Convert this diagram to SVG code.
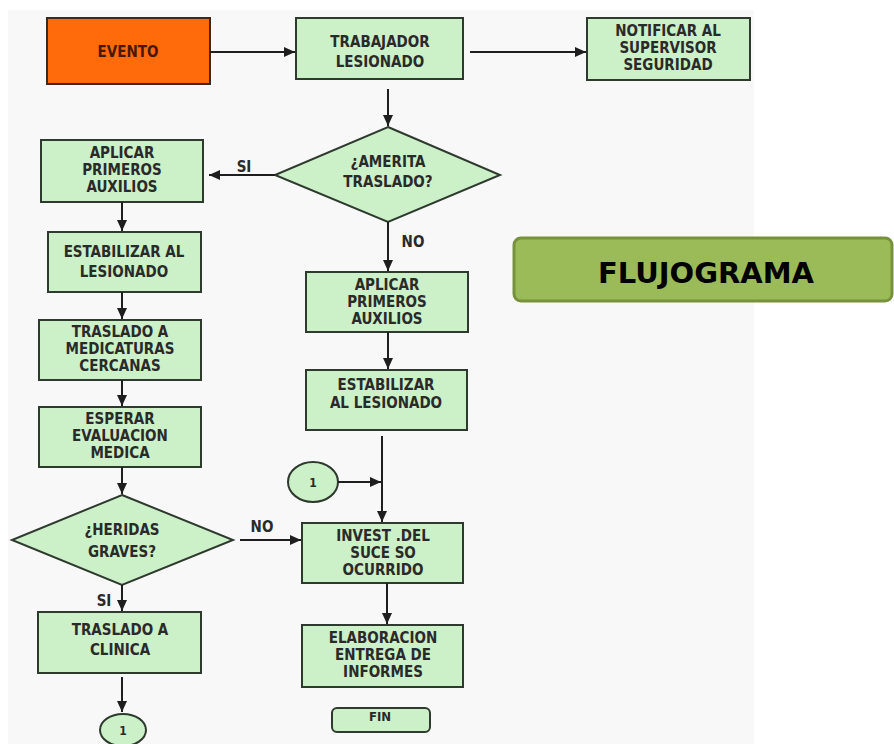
<svg xmlns="http://www.w3.org/2000/svg" width="894" height="744" viewBox="0 0 894 744">
<defs>
<marker id="ah" markerUnits="userSpaceOnUse" markerWidth="11" markerHeight="10" refX="11" refY="5" orient="auto">
<path d="M0,0 L11,5 L0,10 z" fill="#1e1e1e"/>
</marker>
<style>
.box{fill:#ccf0c8;stroke:#2e3a2e;stroke-width:2}
.t{font-family:"DejaVu Sans Condensed","DejaVu Sans",sans-serif;font-stretch:condensed;font-weight:bold;font-size:15px;fill:#2a2a2a;text-anchor:middle}
.lbl{font-family:"DejaVu Sans Condensed","DejaVu Sans",sans-serif;font-stretch:condensed;font-weight:bold;font-size:15px;fill:#2a2a2a;text-anchor:middle}
.c line{stroke:#1e1e1e;stroke-width:2;marker-end:url(#ah)}
</style>
</defs>
<rect x="0" y="0" width="894" height="744" fill="#ffffff"/>
<rect x="8" y="10" width="746" height="734" fill="#f8f8f8"/>

<g id="evento">
<rect x="47" y="18" width="163" height="66" fill="#ff6a0a" stroke="#3a2a20" stroke-width="2"/>
<text class="t" x="128" y="57" style="fill:#4a1808">EVENTO</text>
</g>
<g id="trabajador">
<rect class="box" x="296" y="18" width="167" height="61"/>
<text class="t" x="380" y="47">TRABAJADOR</text>
<text class="t" x="380" y="67">LESIONADO</text>
</g>
<g id="notificar">
<rect class="box" x="587" y="18" width="163" height="62"/>
<text class="t" x="668" y="36">NOTIFICAR AL</text>
<text class="t" x="668" y="53">SUPERVISOR</text>
<text class="t" x="668" y="70">SEGURIDAD</text>
</g>
<g id="amerita">
<polygon class="box" points="388,127 500,175 388,222 275,175"/>
<text class="t" x="388" y="167">¿AMERITA</text>
<text class="t" x="388" y="187">TRASLADO?</text>
</g>
<g id="aplicar1">
<rect class="box" x="41" y="140" width="162" height="62"/>
<text class="t" x="122" y="158">APLICAR</text>
<text class="t" x="122" y="175">PRIMEROS</text>
<text class="t" x="122" y="192">AUXILIOS</text>
</g>
<g id="estabilizar1">
<rect class="box" x="48" y="232" width="153" height="60"/>
<text class="t" x="124" y="257">ESTABILIZAR AL</text>
<text class="t" x="124" y="277">LESIONADO</text>
</g>
<g id="traslado1">
<rect class="box" x="39" y="320" width="162" height="60"/>
<text class="t" x="120" y="337">TRASLADO A</text>
<text class="t" x="120" y="354">MEDICATURAS</text>
<text class="t" x="120" y="371">CERCANAS</text>
</g>
<g id="esperar">
<rect class="box" x="39" y="407" width="162" height="60"/>
<text class="t" x="120" y="424">ESPERAR</text>
<text class="t" x="120" y="441">EVALUACION</text>
<text class="t" x="120" y="458">MEDICA</text>
</g>
<g id="heridas">
<polygon class="box" points="122,495 233,540 122,585 12,540"/>
<text class="t" x="122" y="535">¿HERIDAS</text>
<text class="t" x="122" y="557">GRAVES?</text>
</g>
<g id="clinica">
<rect class="box" x="38" y="612" width="163" height="61"/>
<text class="t" x="120" y="635">TRASLADO A</text>
<text class="t" x="120" y="655">CLINICA</text>
</g>
<g id="conector1b">
<ellipse class="box" cx="123" cy="730" rx="23" ry="16"/>
<text class="t" x="123" y="735" style="font-size:12px">1</text>
</g>
<g id="aplicar2">
<rect class="box" x="306" y="272" width="162" height="60"/>
<text class="t" x="387" y="290">APLICAR</text>
<text class="t" x="387" y="307">PRIMEROS</text>
<text class="t" x="387" y="324">AUXILIOS</text>
</g>
<g id="estabilizar2">
<rect class="box" x="306" y="370" width="161" height="60"/>
<text class="t" x="386" y="390">ESTABILIZAR</text>
<text class="t" x="386" y="408">AL LESIONADO</text>
</g>
<g id="conector1a">
<ellipse class="box" cx="313" cy="482" rx="25" ry="20"/>
<text class="t" x="313" y="487" style="font-size:12px">1</text>
</g>
<g id="invest">
<rect class="box" x="302" y="523" width="161" height="60"/>
<text class="t" x="383" y="541">INVEST .DEL</text>
<text class="t" x="383" y="558">SUCE SO</text>
<text class="t" x="383" y="575">OCURRIDO</text>
</g>
<g id="elaboracion">
<rect class="box" x="302" y="625" width="161" height="62"/>
<text class="t" x="383" y="643">ELABORACION</text>
<text class="t" x="383" y="660">ENTREGA DE</text>
<text class="t" x="383" y="677">INFORMES</text>
</g>
<g id="fin">
<rect class="box" x="332" y="708" width="98" height="24" rx="5"/>
<text class="t" x="380" y="721" style="font-size:13px">FIN</text>
</g>
<g id="titulo">
<rect x="514" y="238" width="378" height="63" rx="7" fill="#9bbb59" stroke="#76923c" stroke-width="3"/>
<text x="706" y="283" font-family="DejaVu Sans, Verdana, sans-serif" font-weight="bold" font-size="29" text-anchor="middle" fill="#000">FLUJOGRAMA</text>
</g>

<g id="connectors" class="c">
<line x1="210" y1="52" x2="295" y2="52"/>
<line x1="470" y1="52" x2="586" y2="52"/>
<line x1="388" y1="89" x2="388" y2="126"/>
<line x1="275" y1="175" x2="209" y2="175"/>
<line x1="388" y1="222" x2="388" y2="271"/>
<line x1="122" y1="202" x2="122" y2="231"/>
<line x1="122" y1="292" x2="122" y2="319"/>
<line x1="122" y1="380" x2="122" y2="406"/>
<line x1="122" y1="467" x2="122" y2="494"/>
<line x1="240" y1="540" x2="301" y2="540"/>
<line x1="122" y1="585" x2="122" y2="611"/>
<line x1="122" y1="677" x2="122" y2="712"/>
<line x1="388" y1="332" x2="388" y2="369"/>
<line x1="382" y1="436" x2="382" y2="522"/>
<line x1="338" y1="482" x2="381" y2="482"/>
<line x1="387" y1="583" x2="387" y2="624"/>
</g>
<g id="labels">
<text class="lbl" x="244" y="172">SI</text>
<text class="lbl" x="413" y="247">NO</text>
<text class="lbl" x="262" y="532">NO</text>
<text class="lbl" x="104" y="606">SI</text>
</g>
</svg>
